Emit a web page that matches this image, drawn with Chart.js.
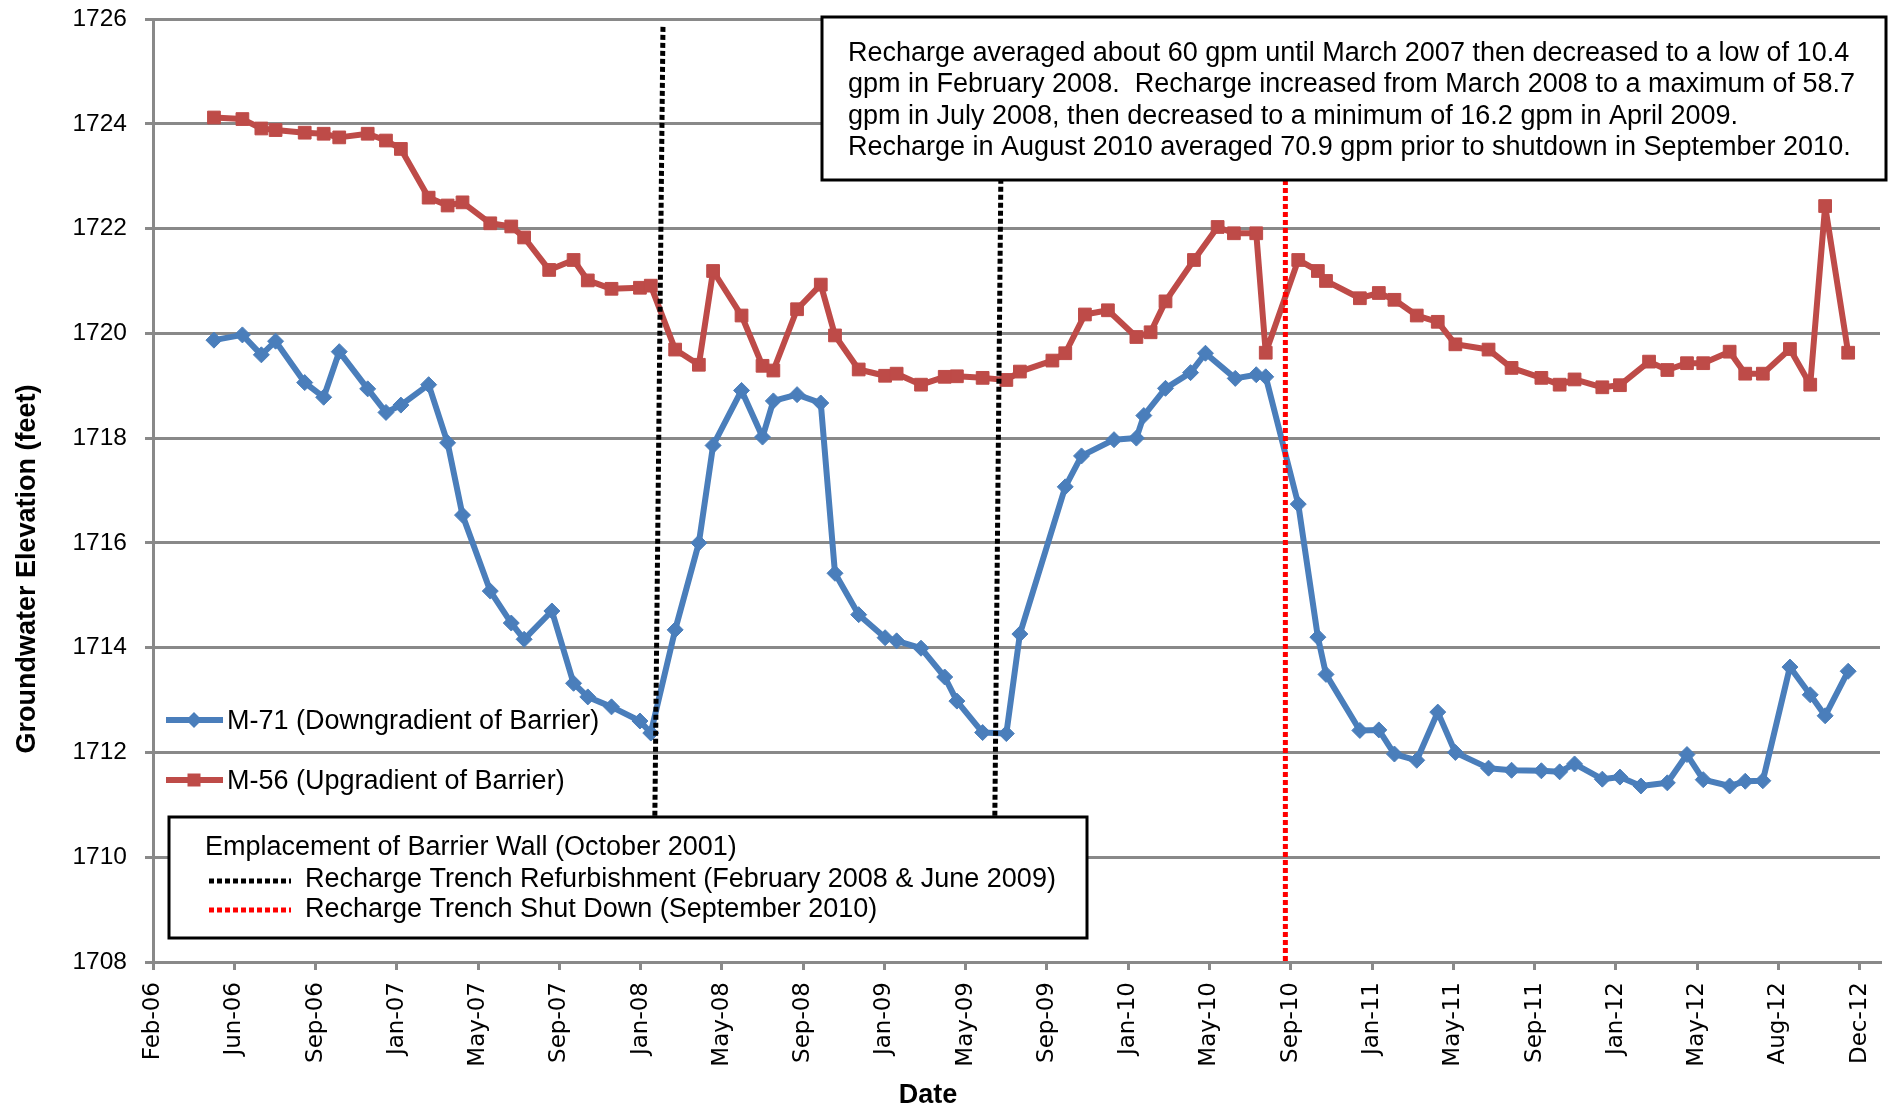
<!DOCTYPE html>
<html>
<head>
<meta charset="utf-8">
<script src="https://cdn.jsdelivr.net/npm/chart.js@4.4.0/dist/chart.umd.min.js"></script>
<style>
    html, body { margin: 0; padding: 0; background: #ffffff; }
    #wrap { width: 1890px; height: 1110px; }
</style>
</head>
<body>
<div id="wrap"><canvas id="groundwater" width="1890" height="1110"></canvas></div>
<script>
const blueColor = "#4A7EBB";
const redColor = "#BE4B48";
const gridColor = "#898989";

// date axis: first tick 2 Feb 2006, a tick every 120 days
const axisStart = "2006-02-02";
const axisEnd = "2013-01-26";
const tickStepDays = 120;
const tickLabels = ["Feb-06", "Jun-06", "Sep-06", "Jan-07", "May-07", "Sep-07", "Jan-08", "May-08",
    "Sep-08", "Jan-09", "May-09", "Sep-09", "Jan-10", "May-10", "Sep-10", "Jan-11", "May-11",
    "Sep-11", "Jan-12", "May-12", "Aug-12", "Dec-12"];

const m71Dates = [
    "2006-05-03", "2006-06-14", "2006-07-12", "2006-08-02", "2006-09-14", "2006-10-12", "2006-11-04", "2006-12-16",
    "2007-01-12", "2007-02-03", "2007-03-16", "2007-04-13", "2007-05-05", "2007-06-15", "2007-07-16", "2007-08-04",
    "2007-09-14", "2007-10-16", "2007-11-06", "2007-12-11",
    "2008-01-22", "2008-02-07", "2008-03-14", "2008-04-18", "2008-05-09", "2008-06-20", "2008-07-21", "2008-08-06",
    "2008-09-10", "2008-10-15", "2008-11-05", "2008-12-10",
    "2009-01-18", "2009-02-04", "2009-03-12", "2009-04-16", "2009-05-04", "2009-06-11", "2009-07-16", "2009-08-05",
    "2009-10-11", "2009-11-04", "2009-12-22",
    "2010-01-24", "2010-02-04", "2010-03-08", "2010-04-14", "2010-05-06", "2010-06-19", "2010-07-20", "2010-08-03",
    "2010-09-20", "2010-10-19", "2010-10-31", "2010-12-20",
    "2011-01-17", "2011-02-09", "2011-03-14", "2011-04-14", "2011-05-10", "2011-06-28", "2011-08-01", "2011-09-14",
    "2011-10-11", "2011-11-02", "2011-12-13",
    "2012-01-08", "2012-02-08", "2012-03-18", "2012-04-16", "2012-05-10", "2012-06-18", "2012-07-11", "2012-08-06",
    "2012-09-15", "2012-10-15", "2012-11-06", "2012-12-10"
];
const m71Values = [
    1719.87, 1719.97, 1719.59, 1719.85, 1719.06, 1718.78, 1719.65, 1718.94,
    1718.49, 1718.63, 1719.02, 1717.91, 1716.53, 1715.08, 1714.47, 1714.16, 1714.70, 1713.32, 1713.06, 1712.87,
    1712.60, 1712.37, 1714.34, 1716.00, 1717.86, 1718.91, 1718.02, 1718.71, 1718.83, 1718.67, 1715.42, 1714.63,
    1714.19, 1714.13, 1713.99, 1713.44, 1712.98, 1712.38, 1712.36, 1714.26, 1717.07, 1717.66, 1717.97,
    1718.00, 1718.43, 1718.95, 1719.25, 1719.62, 1719.14, 1719.21, 1719.17, 1716.74, 1714.20, 1713.49, 1712.42,
    1712.43, 1711.97, 1711.85, 1712.77, 1712.00, 1711.70, 1711.66, 1711.65, 1711.63, 1711.78, 1711.49,
    1711.53, 1711.36, 1711.42, 1711.96, 1711.48, 1711.36, 1711.45, 1711.46, 1713.63, 1713.10, 1712.70, 1713.55
];

const m56Dates = [
    "2006-05-03", "2006-06-14", "2006-07-12", "2006-08-02", "2006-09-14", "2006-10-12", "2006-11-04", "2006-12-16",
    "2007-01-12", "2007-02-03", "2007-03-16", "2007-04-13", "2007-05-05", "2007-06-15", "2007-07-16", "2007-08-04",
    "2007-09-10", "2007-10-16", "2007-11-06", "2007-12-11",
    "2008-01-22", "2008-02-07", "2008-03-14", "2008-04-18", "2008-05-09", "2008-06-20", "2008-07-21", "2008-08-06",
    "2008-09-10", "2008-10-15", "2008-11-05", "2008-12-10",
    "2009-01-18", "2009-02-04", "2009-03-12", "2009-04-16", "2009-05-04", "2009-06-11", "2009-07-16", "2009-08-05",
    "2009-09-22", "2009-10-11", "2009-11-09", "2009-12-13",
    "2010-01-24", "2010-02-14", "2010-03-08", "2010-04-19", "2010-05-24", "2010-06-17", "2010-07-20", "2010-08-03",
    "2010-09-20", "2010-10-19", "2010-10-31", "2010-12-20",
    "2011-01-17", "2011-02-09", "2011-03-14", "2011-04-14", "2011-05-10", "2011-06-28", "2011-08-01", "2011-09-14",
    "2011-10-11", "2011-11-02", "2011-12-13",
    "2012-01-08", "2012-02-20", "2012-03-18", "2012-04-16", "2012-05-10", "2012-06-18", "2012-07-11", "2012-08-06",
    "2012-09-15", "2012-10-15", "2012-11-06", "2012-12-10"
];
const m56Values = [
    1724.12, 1724.09, 1723.91, 1723.88, 1723.83, 1723.81, 1723.74, 1723.81,
    1723.68, 1723.52, 1722.59, 1722.44, 1722.50, 1722.10, 1722.04, 1721.83, 1721.21, 1721.40, 1721.01, 1720.85,
    1720.87, 1720.91, 1719.69, 1719.40, 1721.19, 1720.34, 1719.38, 1719.29, 1720.46, 1720.93, 1719.96, 1719.31,
    1719.19, 1719.23, 1719.02, 1719.17, 1719.18, 1719.15, 1719.11, 1719.27, 1719.48, 1719.62, 1720.36, 1720.44,
    1719.93, 1720.02, 1720.61, 1721.40, 1722.03, 1721.91, 1721.91, 1719.63, 1721.40, 1721.19, 1721.00, 1720.67,
    1720.77, 1720.64, 1720.34, 1720.22, 1719.79, 1719.69, 1719.34, 1719.15, 1719.02, 1719.12, 1718.97,
    1719.01, 1719.46, 1719.30, 1719.43, 1719.43, 1719.65, 1719.23, 1719.23, 1719.70, 1719.02, 1722.43, 1719.63
];

// event lines (drawn slightly slanted as in the original)
const refurbTopDates = ["2008-02-25", "2009-07-10"];
const refurbBottomDates = ["2008-02-13", "2009-06-29"];
const shutdownDate = "2010-09-01";
const markerTopValue = 1725.85;

const seriesNames = ["M-71 (Downgradient of Barrier)", "M-56 (Upgradient of Barrier)"];
const noteLines = [
    "Recharge averaged about 60 gpm until March 2007 then decreased to a low of 10.4",
    "gpm in February 2008.  Recharge increased from March 2008 to a maximum of 58.7",
    "gpm in July 2008, then decreased to a minimum of 16.2 gpm in April 2009.",
    "Recharge in August 2010 averaged 70.9 gpm prior to shutdown in September 2010."
];
const eventLabels = [
    "Emplacement of Barrier Wall (October 2001)",
    "Recharge Trench Refurbishment (February 2008 & June 2009)",
    "Recharge Trench Shut Down (September 2010)"
];

const dayMs = 86400000;
function dayOf(s) {
    return (Date.parse(s + "T00:00:00Z") - Date.parse(axisStart + "T00:00:00Z")) / dayMs;
}

const noteBox = { x: 822, y: 17, w: 1064, h: 163 };
const eventBox = { x: 169, y: 817, w: 918, h: 121 };
const textFont = "27px 'Liberation Sans', Arial, sans-serif";

function drawMarker(ctx, style, x, y, color) {
    ctx.fillStyle = color;
    ctx.beginPath();
    if (style === "rectRot") {
        ctx.moveTo(x, y - 8); ctx.lineTo(x + 8, y); ctx.lineTo(x, y + 8); ctx.lineTo(x - 8, y);
    } else {
        ctx.rect(x - 6.5, y - 6.5, 13, 13);
    }
    ctx.closePath();
    ctx.fill();
}

const overlay = {
    id: "overlay",
    afterDatasetsDraw(chart) {
        const { ctx, scales: { x, y } } = chart;
        ctx.save();

        // dotted event lines
        ctx.lineWidth = 5;
        ctx.setLineDash([5, 3]);
        ctx.strokeStyle = "#000000";
        refurbTopDates.forEach((d, i) => {
            ctx.beginPath();
            ctx.moveTo(x.getPixelForValue(dayOf(d)), y.getPixelForValue(markerTopValue));
            ctx.lineTo(x.getPixelForValue(dayOf(refurbBottomDates[i])), eventBox.y);
            ctx.stroke();
        });
        const sx = x.getPixelForValue(dayOf(shutdownDate));
        ctx.strokeStyle = "#FF0000";
        ctx.beginPath();
        ctx.moveTo(sx, noteBox.y + noteBox.h);
        ctx.lineTo(sx, y.getPixelForValue(1708));
        ctx.stroke();
        ctx.setLineDash([]);

        // note box
        ctx.fillStyle = "#ffffff";
        ctx.fillRect(noteBox.x, noteBox.y, noteBox.w, noteBox.h);
        ctx.lineWidth = 3;
        ctx.strokeStyle = "#000000";
        ctx.strokeRect(noteBox.x, noteBox.y, noteBox.w, noteBox.h);
        ctx.fillStyle = "#000000";
        ctx.font = textFont;
        ctx.textBaseline = "alphabetic";
        ctx.textAlign = "left";
        noteLines.forEach((t, i) => ctx.fillText(t, noteBox.x + 26, noteBox.y + 44 + i * 31.4));

        // event legend box
        ctx.fillStyle = "#ffffff";
        ctx.fillRect(eventBox.x, eventBox.y, eventBox.w, eventBox.h);
        ctx.strokeRect(eventBox.x, eventBox.y, eventBox.w, eventBox.h);
        ctx.fillStyle = "#000000";
        ctx.fillText(eventLabels[0], eventBox.x + 36, eventBox.y + 38);
        ctx.fillText(eventLabels[1], eventBox.x + 136, eventBox.y + 70);
        ctx.fillText(eventLabels[2], eventBox.x + 136, eventBox.y + 100);
        ctx.lineWidth = 5;
        ctx.setLineDash([5, 3]);
        [["#000000", 64], ["#FF0000", 93]].forEach(([c, dy]) => {
            ctx.strokeStyle = c;
            ctx.beginPath();
            ctx.moveTo(eventBox.x + 40, eventBox.y + dy);
            ctx.lineTo(eventBox.x + 122, eventBox.y + dy);
            ctx.stroke();
        });
        ctx.setLineDash([]);

        // series legend
        chart.data.datasets.forEach((ds, i) => {
            const ly = 720 + i * 60;
            ctx.strokeStyle = ds.borderColor;
            ctx.lineWidth = 6;
            ctx.beginPath();
            ctx.moveTo(166, ly);
            ctx.lineTo(223, ly);
            ctx.stroke();
            drawMarker(ctx, ds.pointStyle, 194, ly, ds.backgroundColor);
            ctx.fillStyle = "#000000";
            ctx.font = textFont;
            ctx.fillText(seriesNames[i], 227, ly + 9);
        });

        // axis titles
        ctx.font = "bold 27px 'Liberation Sans', Arial, sans-serif";
        ctx.textAlign = "center";
        ctx.textBaseline = "middle";
        ctx.fillText("Date", 928, 1096);
        ctx.translate(28, 569);
        ctx.rotate(-Math.PI / 2);
        ctx.fillText("Groundwater Elevation (feet)", 0, 0);
        ctx.restore();
    }
};

const ctx = document.getElementById("groundwater");
const chart = new Chart(ctx, {
    type: "line",
    data: {
        datasets: [{
            label: seriesNames[0],
            data: m71Dates.map((d, i) => ({ x: dayOf(d), y: m71Values[i] })),
            borderColor: blueColor,
            backgroundColor: blueColor,
            borderWidth: 6,
            borderJoinStyle: "round",
            pointStyle: "rectRot",
            pointRadius: 8,
            pointBorderWidth: 1,
            tension: 0,
        }, {
            label: seriesNames[1],
            data: m56Dates.map((d, i) => ({ x: dayOf(d), y: m56Values[i] })),
            borderColor: redColor,
            backgroundColor: redColor,
            borderWidth: 6,
            borderJoinStyle: "round",
            pointStyle: "rect",
            pointRadius: 9,
            pointBorderWidth: 1,
            tension: 0,
        }],
    },
    options: {
        responsive: false,
        animation: false,
        devicePixelRatio: 1,
        layout: { padding: { top: 19, right: 10, left: 0, bottom: 0 } },
        plugins: { legend: { display: false }, tooltip: { enabled: false } },
        scales: {
            x: {
                type: "linear",
                min: 0,
                max: dayOf(axisEnd),
                afterBuildTicks: (scale) => {
                    scale.ticks = tickLabels.map((_, i) => ({ value: i * tickStepDays }));
                },
                afterFit: (scale) => {
                    scale.height = 148;
                    scale.paddingLeft = 0;
                    scale.paddingRight = 0;
                },
                ticks: {
                    autoSkip: false,
                    minRotation: 90,
                    maxRotation: 90,
                    padding: 12,
                    color: "#000000",
                    font: { family: "'DejaVu Sans'", size: 23 },
                    callback: (value, index) => tickLabels[index],
                },
                grid: { drawOnChartArea: false, tickLength: 8, color: gridColor, lineWidth: 3 },
                border: { color: gridColor, width: 3 },
            },
            y: {
                min: 1708,
                max: 1726,
                afterFit: (scale) => {
                    scale.width = 153;
                    scale.paddingTop = 0;
                    scale.paddingBottom = 0;
                },
                ticks: {
                    stepSize: 2,
                    padding: 18,
                    color: "#000000",
                    font: { family: "'Liberation Sans'", size: 24.5 },
                    callback: (value) => String(value),
                },
                grid: { color: gridColor, lineWidth: 3, tickLength: 8 },
                border: { color: gridColor, width: 3 },
            },
        },
    },
    plugins: [overlay],
});
</script>
</body>
</html>
